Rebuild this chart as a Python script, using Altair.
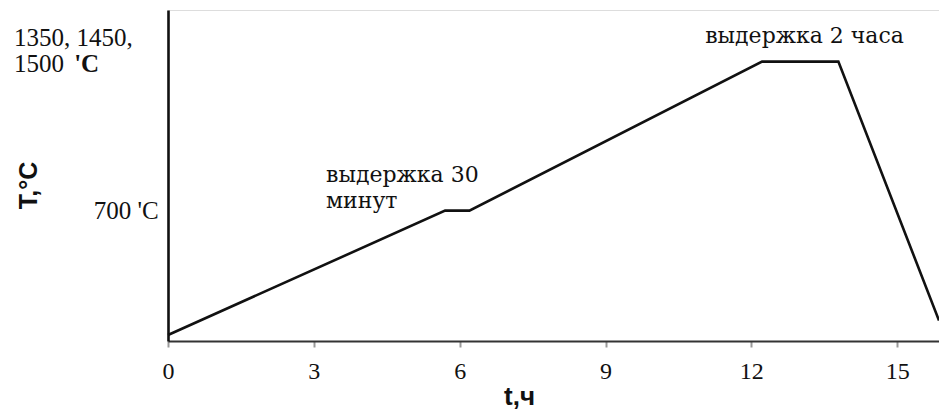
import altair as alt
import pandas as pd

# Temperature profile (time in hours, temperature in °C)
times = [0, 5.7, 6.2, 12.22, 13.79, 15.86]
temps = [32, 700, 700, 1500, 1500, 110]

# Annotations
ann_text = ["выдержка 30\nминут", "выдержка 2 часа", "1350, 1450,\n1500", "'C", "700 'C"]
ann_t = [3.25, 11.05, -3.17, -1.93, -0.19]
ann_T = [854, 1600, 1584, 1444, 655]
ann_align = ["left", "left", "left", "left", "right"]
ann_style = ["cyr", "cyr", "num", "bold", "num"]

x_ticks = [0, 3, 6, 9, 12, 15]

df = pd.DataFrame({"t": times, "T": temps})
ann = pd.DataFrame({"label": ann_text, "t": ann_t, "T": ann_T,
                    "align": ann_align, "style": ann_style})

xs = alt.Scale(domain=[0, 15.86], nice=False, zero=False)
ys = alt.Scale(domain=[0, 1777], nice=False)

line = alt.Chart(df).mark_line(color="#111111", strokeWidth=2.6).encode(
    x=alt.X("t:Q", scale=xs, axis=alt.Axis(
        values=x_ticks, title="t,ч", grid=False,
        domainColor="#333333", domainWidth=2,
        tickColor="#999999", tickSize=6, tickWidth=2,
        labelFont="Liberation Serif", labelFontSize=24, labelColor="#111111",
        labelPadding=31, labelBaseline="alphabetic", labelFlush=False,
        titleFont="Liberation Sans", titleFontSize=26, titleFontWeight="bold",
        titleColor="#111111", titleX=351, titleY=63, titleBaseline="alphabetic",
        titleAlign="center")),
    y=alt.Y("T:Q", scale=ys, axis=alt.Axis(
        title="T,°C", labels=False, ticks=False, grid=False,
        domainColor="#111111", domainWidth=2.6,
        titleFont="Liberation Sans", titleFontSize=25, titleFontWeight="bold",
        titleColor="#111111", titleX=-140, titleY=175, titleAngle=270,
        titleAlign="center", titleBaseline="middle")),
)

def text_layer(style, align, font, size, weight="normal"):
    sub = ann[ann["style"] == style]
    return alt.Chart(sub).mark_text(
        font=font, fontSize=size, fontWeight=weight, color="#111111",
        align=align, baseline="alphabetic", lineHeight=26, lineBreak="\n",
    ).encode(
        x=alt.X("t:Q", scale=xs),
        y=alt.Y("T:Q", scale=ys),
        text="label:N",
    )

num_left = alt.Chart(ann[(ann["style"] == "num") & (ann["align"] == "left")]).mark_text(
    font="Liberation Serif", fontSize=25, color="#111111",
    align="left", baseline="alphabetic", lineHeight=26, lineBreak="\n",
).encode(x=alt.X("t:Q", scale=xs), y=alt.Y("T:Q", scale=ys), text="label:N")

num_right = alt.Chart(ann[(ann["style"] == "num") & (ann["align"] == "right")]).mark_text(
    font="Liberation Serif", fontSize=25, color="#111111",
    align="right", baseline="alphabetic",
).encode(x=alt.X("t:Q", scale=xs), y=alt.Y("T:Q", scale=ys), text="label:N")

chart = alt.layer(
    line,
    text_layer("cyr", "left", "DejaVu Serif", 22),
    text_layer("bold", "left", "Liberation Serif", 25, "bold"),
    num_left,
    num_right,
).properties(
    width=771, height=331,
    autosize=alt.AutoSizeParams(type="none"),
    padding={"left": 168, "top": 10, "right": 0, "bottom": 69},
).configure_view(stroke=None).configure(background="white")

chart.save("out.html", embed_options={"renderer": "svg", "actions": False})
